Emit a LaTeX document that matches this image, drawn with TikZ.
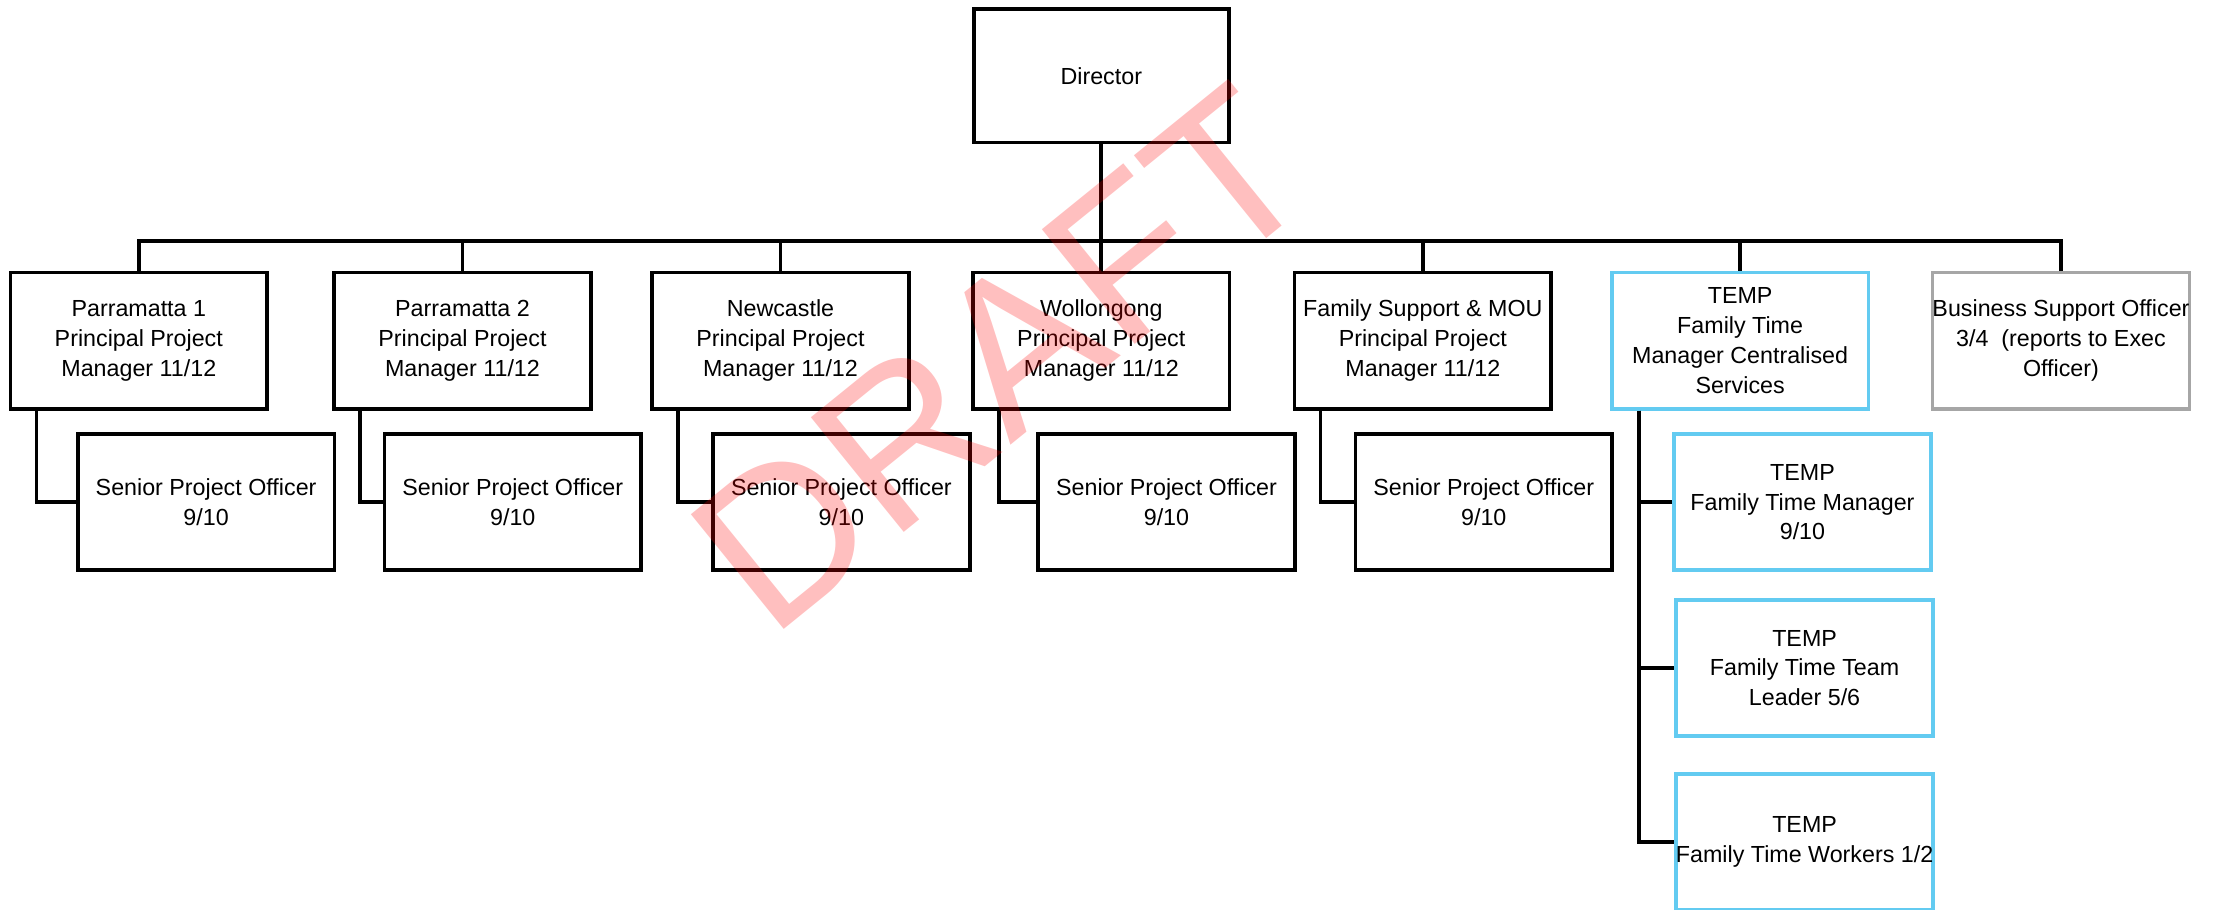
\documentclass[tikz,border=0pt]{standalone}
\usepackage{fontspec}
\setmainfont{Liberation Sans}
\definecolor{tempblue}{RGB}{99,203,241}
\definecolor{boxgray}{RGB}{166,166,166}
\begin{document}
\begin{tikzpicture}[x=0.7pt,y=-0.7pt,
  box/.style={draw, line width=1.8pt, fill=white, minimum width=126.8pt, minimum height=67.3pt,
    inner sep=0pt, align=center, font=\fontsize{11.5}{14.7}\selectfont},
  tbox/.style={box, draw=tempblue},
  gbox/.style={box, draw=boxgray},
  conn/.style={line width=1.8pt, line join=miter}]
\useasboundingbox (0,0) rectangle (1568,642);
\clip (0,0) rectangle (1568,642);
\coordinate (busy) at (0,170);
% level 0
\node[box, minimum width=126pt, minimum height=66pt] (dir) at (777.5,53.5) {Director};
% level 1
\node[box] (p1) at (98,240.5) {Parramatta 1\\Principal Project\\Manager 11/12};
\node[box] (p2) at (326.5,240.5) {Parramatta 2\\Principal Project\\Manager 11/12};
\node[box] (nc) at (551,240.5) {Newcastle\\Principal Project\\Manager 11/12};
\node[box] (wo) at (777.5,240.5) {Wollongong\\Principal Project\\Manager 11/12};
\node[box] (fs) at (1004.5,240.5) {Family Support \& MOU\\Principal Project\\Manager 11/12};
\node[tbox] (ft) at (1228.5,240.5) {TEMP\\Family Time\\Manager Centralised\\Services};
\node[gbox] (bso) at (1455,240.5) {Business Support Officer\\3/4~ (reports to Exec\\Officer)};
% level 2
\node[box] (s1) at (145.5,354.5) {Senior Project Officer\\9/10};
\node[box] (s2) at (362,354.5) {Senior Project Officer\\9/10};
\node[box] (s3) at (594,354.5) {Senior Project Officer\\9/10};
\node[box] (s4) at (823.5,354.5) {Senior Project Officer\\9/10};
\node[box] (s5) at (1047.5,354.5) {Senior Project Officer\\9/10};
\node[tbox] (f1) at (1272.5,354.5) {TEMP\\Family Time Manager\\9/10};
\node[tbox] (f2) at (1274,471.5) {TEMP\\Family Time Team\\Leader 5/6};
\node[tbox] (f3) at (1274,594.5) {TEMP\\Family Time Workers 1/2};
% connectors
\draw[conn] (dir.south) -- (dir.south |- busy);
\draw[conn] (p1.north) -- (p1.north |- busy) -- (bso.north |- busy) -- (bso.north);
\foreach \n in {p2,nc,wo,fs,ft} \draw[conn] (\n.north) -- (\n.north |- busy);
\draw[conn] ([xshift=13.7pt]p1.south west) |- (s1.west);
\draw[conn] ([xshift=13.7pt]p2.south west) |- (s2.west);
\draw[conn] ([xshift=13.7pt]nc.south west) |- (s3.west);
\draw[conn] ([xshift=13.7pt]wo.south west) |- (s4.west);
\draw[conn] ([xshift=13.7pt]fs.south west) |- (s5.west);
\coordinate (ftv) at ([xshift=14.4pt]ft.south west);
\draw[conn] (ftv) |- (f3.west);
\draw[conn] (ftv) |- (f1.west);
\draw[conn] (ftv) |- (f2.west);
% watermark
\node[rotate=39, text=red, text opacity=0.25, inner sep=0pt,
  font=\fontsize{106}{106}\selectfont] (wm) at (707,253) {DRAFT};
\end{tikzpicture}
\end{document}
